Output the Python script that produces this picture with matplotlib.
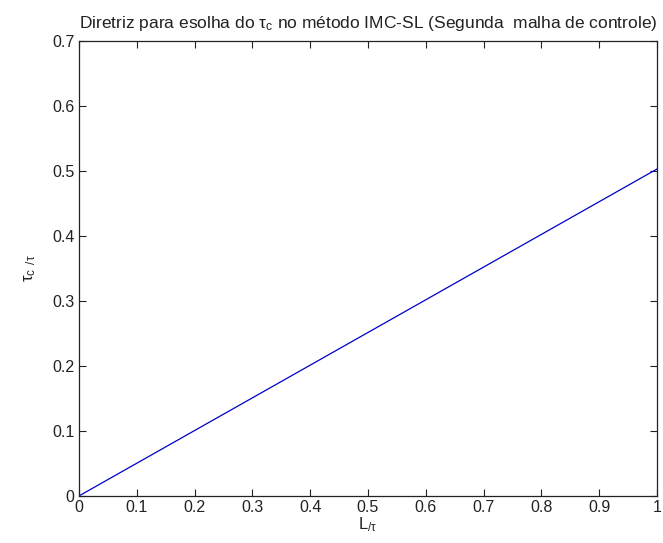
import matplotlib
matplotlib.use("Agg")
import matplotlib.pyplot as plt
from matplotlib import font_manager

# Guideline curve: L/tau versus tau_c/tau
l_over_tau = [0.0, 1.0]
tauc_over_tau = [0.0, 0.503]

xticks = [0, 0.1, 0.2, 0.3, 0.4, 0.5, 0.6, 0.7, 0.8, 0.9, 1]
xtick_labels = ["0", "0.1", "0.2", "0.3", "0.4", "0.5", "0.6", "0.7", "0.8", "0.9", "1"]
yticks = [0, 0.1, 0.2, 0.3, 0.4, 0.5, 0.6, 0.7]
ytick_labels = ["0", "0.1", "0.2", "0.3", "0.4", "0.5", "0.6", "0.7"]

family = "Liberation Sans"
plt.rcParams["font.family"] = [family, "DejaVu Sans"]
plt.rcParams["mathtext.fontset"] = "custom"
plt.rcParams["mathtext.rm"] = family
plt.rcParams["mathtext.it"] = family
plt.rcParams["mathtext.default"] = "regular"

fig = plt.figure(figsize=(6.63, 5.43), dpi=100)
ax = fig.add_axes([0.119, 0.0866, 0.872, 0.838])

ax.plot(l_over_tau, tauc_over_tau, color="#0000c8", linewidth=0.9)

ax.set_xlim(0, 1)
ax.set_ylim(0, 0.7)
ax.set_xticks(xticks)
ax.set_xticklabels(xtick_labels)
ax.set_yticks(yticks)
ax.set_yticklabels(ytick_labels)
ax.tick_params(direction="in", top=True, right=True, length=5, width=0.8,
               labelsize=11.5, colors="#222222", pad=3)
for s in ax.spines.values():
    s.set_linewidth(0.9)
    s.set_color("#222222")

ax.set_title(r"Diretriz para esolha do $\tau_c$ no método IMC-SL (Segunda  malha de controle)",
             fontsize=12.5, pad=9, color="#222222")
ax.set_xlabel(r"L$_{/\tau}$", fontsize=12, labelpad=0, color="#222222")
ax.set_ylabel(r"$\tau_c$ $_{/\tau}$", fontsize=12, labelpad=10, color="#222222")

fig.savefig("out.png", dpi=100, facecolor="white")
